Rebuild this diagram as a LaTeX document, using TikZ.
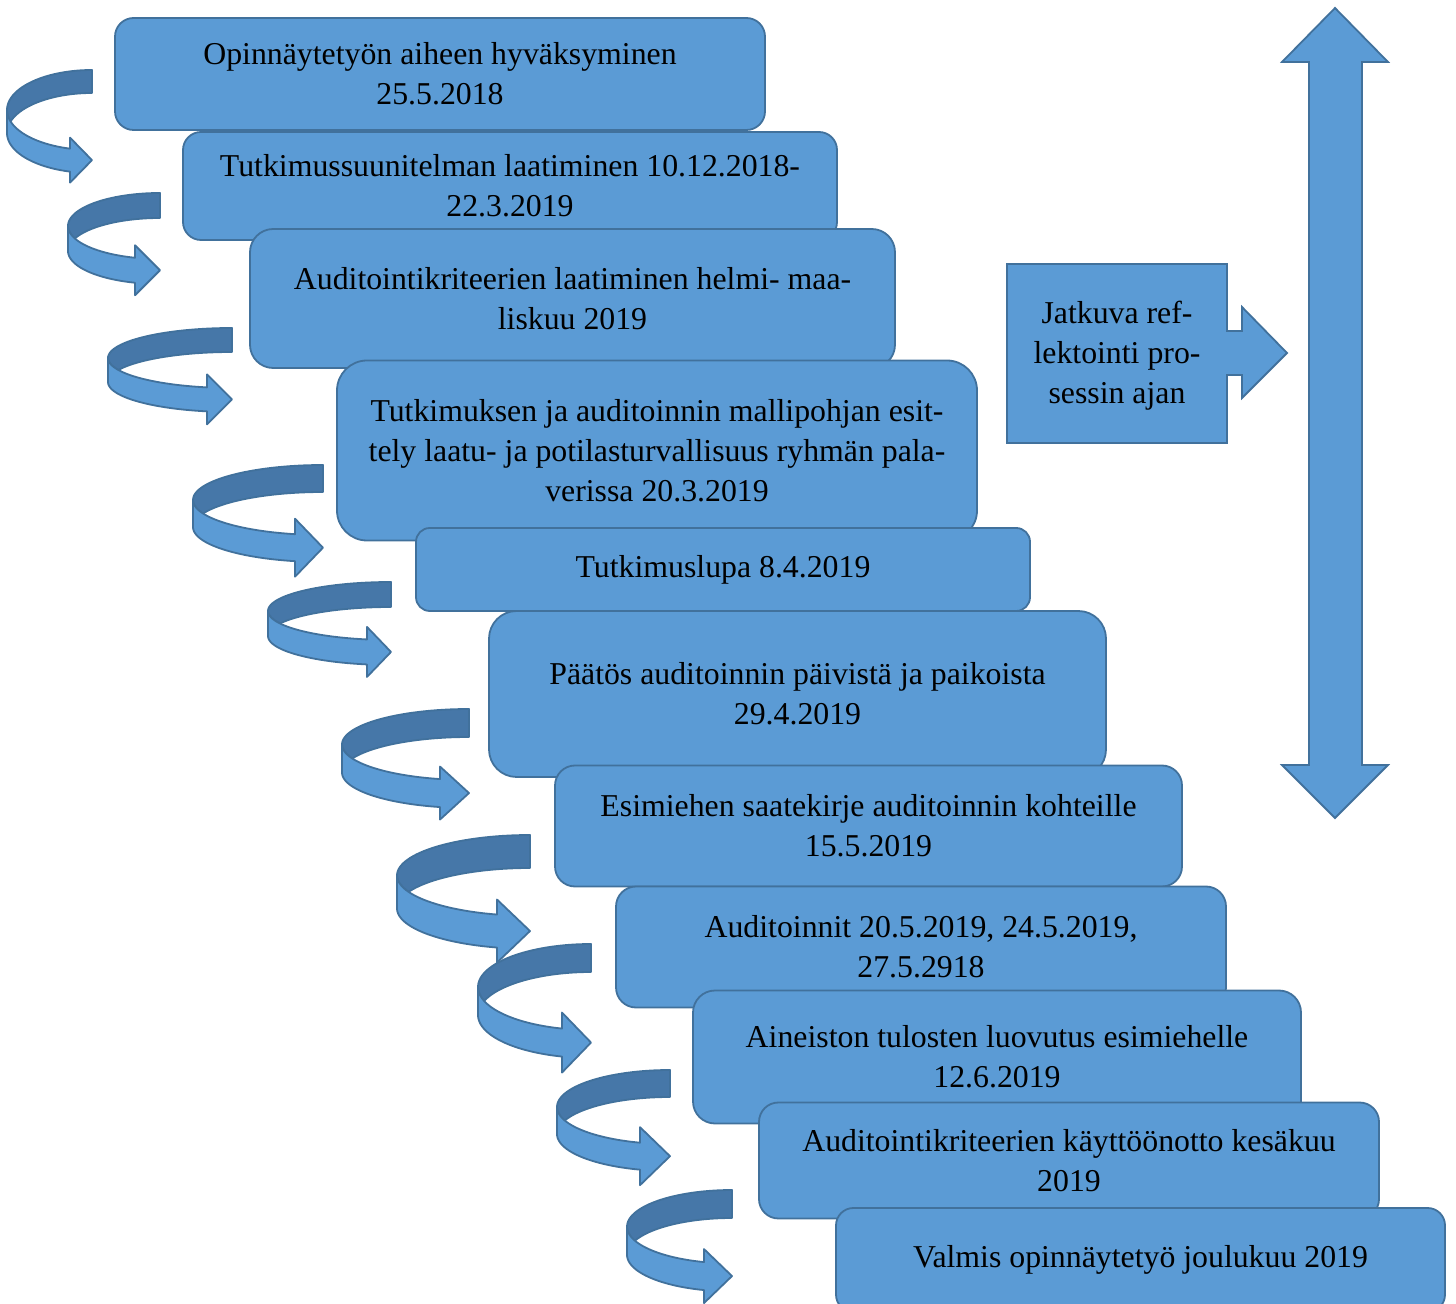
\documentclass[tikz,border=0pt]{standalone}
\usepackage{fontspec}
\setmainfont{Liberation Serif}
\definecolor{boxfill}{HTML}{5B9BD5}
\definecolor{boxline}{HTML}{41719C}
\definecolor{backband}{HTML}{4677A8}
\tikzset{
  stepbox/.style={draw=boxline, fill=boxfill, line width=0.9pt, inner sep=0pt, align=center,
    font=\fontsize{15.9}{20}\selectfont},
  steptext/.style={inner sep=0pt, align=center, font=\fontsize{15.9}{20}\selectfont},
  frontband/.style={draw=boxline, fill=boxfill, line width=0.9pt, line join=round},
  rearband/.style={draw=boxline, fill=backband, line width=0.9pt, line join=round},
  bigarrow/.style={draw=boxline, fill=boxfill, line width=0.9pt},
}
% curved arrow: #1 left x, #2 right x, #3 top y, #4 band thickness, #5 y radius, #6 head length, #7 head half height
\newcommand\curvedturn[7]{%
  \pgfmathsetmacro\cuCX{#2}%
  \pgfmathsetmacro\cuRX{#2-#1}%
  \pgfmathsetmacro\cuCY{#3+#5}%
  \pgfmathsetmacro\cuCYB{#3+#5+#4}%
  \pgfmathsetmacro\cuRY{#5}%
  \pgfmathsetmacro\cuS{asin(#4/(2*#5))}%
  \pgfmathsetmacro\cuSa{180+\cuS}%
  \pgfmathsetmacro\cuSb{180-\cuS}%
  \pgfmathsetmacro\cuPhi{acos(#6/\cuRX)}%
  \pgfmathsetmacro\cuTE{180+\cuPhi}%
  \pgfmathsetmacro\cuXB{#2-#6}%
  \pgfmathsetmacro\cuYM{(\cuCY+\cuCYB)/2+\cuRY*sin(\cuPhi)}%
  \pgfmathsetmacro\cuYT{\cuYM-#7}%
  \pgfmathsetmacro\cuYB{\cuYM+#7}%
  \filldraw[rearband] plot[domain=90:\cuSa, samples=40] ({\cuCX+\cuRX*cos(\x)},{\cuCY-\cuRY*sin(\x)})
     -- plot[domain=\cuSb:90, samples=40] ({\cuCX+\cuRX*cos(\x)},{\cuCYB-\cuRY*sin(\x)}) -- cycle;
  \filldraw[frontband] plot[domain=180:\cuTE, samples=40] ({\cuCX+\cuRX*cos(\x)},{\cuCY-\cuRY*sin(\x)})
     -- (\cuXB,\cuYT) -- (#2,\cuYM) -- (\cuXB,\cuYB)
     -- plot[domain=\cuTE:180, samples=40] ({\cuCX+\cuRX*cos(\x)},{\cuCYB-\cuRY*sin(\x)}) -- cycle;
}
\begin{document}
\begin{tikzpicture}[x=0.5pt,y=-0.5pt]
\useasboundingbox (0,0) rectangle (1456,1304);
\clip (0,0) rectangle (1456,1304);

% curved arrows (lower ones first)
\curvedturn{627}{732}{1190}{28}{36.7}{28}{27}
\curvedturn{557}{670}{1070}{27}{37}{30}{29}
\curvedturn{478}{591}{944}{28}{43}{29}{30}
\curvedturn{397}{530}{835}{33}{40.4}{33}{31.5}
\curvedturn{342}{469}{709}{28}{35.5}{29}{26.5}
\curvedturn{268}{391}{582}{25}{29}{24}{25}
\curvedturn{193}{323}{465}{27}{35}{28}{29}
\curvedturn{108}{232}{328}{24}{30}{25}{25}
\curvedturn{68}{160}{193}{25}{33}{25}{25}
\curvedturn{7}{92}{70}{23}{40}{22}{22.5}

% step boxes
\node[stepbox, minimum width=325pt, minimum height=56pt, rounded corners=9.3pt] (b1) at (440,74)
  {Opinnäytetyön aiheen hyväksyminen\\25.5.2018};
\node[stepbox, minimum width=327pt, minimum height=54pt, rounded corners=9pt] (b2) at (510,186)
  {Tutkimussuunitelman laatiminen 10.12.2018-\\22.3.2019};
\node[stepbox, minimum width=322.5pt, minimum height=69.5pt, rounded corners=11.6pt] (b3) at (572.5,298.5)
  {Auditointikriteerien laatiminen helmi- maa-\\liskuu 2019};
\node[stepbox, minimum width=320pt, minimum height=90pt, rounded corners=15pt] (b4) at (657,450.5)
  {Tutkimuksen ja auditoinnin mallipohjan esit-\\tely laatu- ja potilasturvallisuus ryhmän pala-\\verissa 20.3.2019};
\node[stepbox, minimum width=307pt, minimum height=41.5pt, rounded corners=6.9pt] (b5) at (723,569.5)
  {Tutkimuslupa 8.4.2019};
\node[stepbox, minimum width=308.5pt, minimum height=83pt, rounded corners=13.8pt] (b6) at (797.5,694)
  {Päätös auditoinnin päivistä ja paikoista\\29.4.2019};
\node[stepbox, minimum width=313.5pt, minimum height=60.5pt, rounded corners=10pt] (b7) at (868.5,826)
  {Esimiehen saatekirje auditoinnin kohteille\\15.5.2019};
\node[stepbox, minimum width=305pt, minimum height=60.5pt, rounded corners=10pt] (b8) at (921,947)
  {Auditoinnit 20.5.2019, 24.5.2019,\\27.5.2918};
\node[stepbox, minimum width=304pt, minimum height=66.5pt, rounded corners=11pt] (b9) at (997,1057)
  {Aineiston tulosten luovutus esimiehelle\\12.6.2019};
\node[stepbox, minimum width=310pt, minimum height=58pt, rounded corners=9.7pt] (b10) at (1069,1160.5)
  {Auditointikriteerien käyttöönotto kesäkuu\\2019};
\node[stepbox, minimum width=304.5pt, minimum height=52pt, rounded corners=8.7pt] (b11) at (1140.5,1260)
  {Valmis opinnäytetyö joulukuu 2019};

% right arrow callout
\filldraw[bigarrow] (1007,264) -- (1227,264) -- (1227,331) -- (1242,331) -- (1242,307) -- (1287,353)
  -- (1242,398) -- (1242,375) -- (1227,375) -- (1227,443) -- (1007,443) -- cycle;
\node[steptext] (refl) at (1117,356) {Jatkuva ref-\\lektointi pro-\\sessin ajan};

% up-down arrow
\filldraw[bigarrow] (1335,8) -- (1388,62) -- (1362,62) -- (1362,765) -- (1388,765) -- (1335,818)
  -- (1282,765) -- (1309,765) -- (1309,62) -- (1282,62) -- cycle;
\end{tikzpicture}
\end{document}
